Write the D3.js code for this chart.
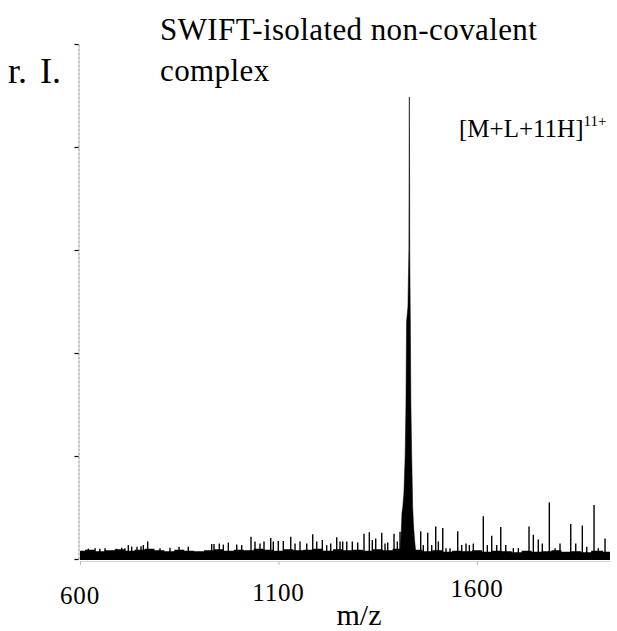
<!DOCTYPE html>
<html>
<head>
<meta charset="utf-8">
<script src="https://cdn.jsdelivr.net/npm/d3@7"></script>
<style>
  html, body { margin: 0; padding: 0; background: #fff; }
  svg { display: block; font-family: "Liberation Serif", "Times New Roman", serif; }
</style>
</head>
<body>
<svg id="chart" width="617" height="631"></svg>
<script>
// tick values
const xTicks = [600, 1100, 1600];
const yTicks = [0, 0.2, 0.4, 0.6, 0.8, 1.0];

// main isolated peak, [M+L+11H]11+ (profile)
const peakMz = [1407, 1409, 1411, 1413, 1416, 1419, 1421, 1422.5, 1426, 1428.4, 1429.3, 1429.8, 1430.6, 1432, 1433.5, 1435.5, 1438, 1440.5, 1443, 1445];
const peakI  = [0.02, 0.05, 0.09, 0.10, 0.13, 0.20, 0.30, 0.46, 0.49, 0.60, 0.897, 0.897, 0.60, 0.47, 0.30, 0.20, 0.10, 0.06, 0.035, 0.02];

// noise spikes m/z + relative intensity
const spikeMz = [621, 638, 650, 663, 692, 705, 713, 721.7, 730.2, 743.6, 753.7, 759.5, 770.5, 801.5, 826.7, 849.4, 872.8,
  931.7, 937.5, 950.9, 961, 973.6, 994.7, 1007.3, 1030.7, 1040.8, 1053.4, 1063.5, 1080.4, 1086.9, 1099.5, 1112.1,
  1130.8, 1141.6, 1154.2, 1171.1, 1186.2, 1196.3, 1210.4, 1221.4, 1231.5, 1246.6, 1254.9, 1261.7, 1272, 1285.9, 1299.5,
  1315.4, 1328.8, 1336.3, 1344.9, 1360, 1368.3, 1375.1, 1391, 1399.3, 1406.1, 1458.2, 1464.8, 1475.9, 1485.9, 1496,
  1502.6, 1513.7, 1522, 1532, 1551.4, 1561.5, 1572.3, 1580.7, 1590.7, 1615.9, 1626, 1637.1, 1649.7, 1659.8, 1672.4,
  1691.5, 1704.1, 1731, 1741.9, 1754.4, 1764.5, 1782.2, 1796.5, 1809.1, 1836.1, 1848.7, 1865.3, 1876.4, 1894.8,
  1905.6, 1922.5];
const spikeI = [0.020, 0.021, 0.020, 0.021, 0.020, 0.022, 0.021, 0.027, 0.024, 0.024, 0.025, 0.027, 0.034, 0.021, 0.022, 0.024, 0.024,
  0.029, 0.029, 0.030, 0.028, 0.032, 0.028, 0.027, 0.043, 0.034, 0.030, 0.034, 0.041, 0.034, 0.035, 0.035,
  0.043, 0.030, 0.034, 0.030, 0.048, 0.034, 0.037, 0.027, 0.030, 0.042, 0.034, 0.034, 0.034, 0.034, 0.032,
  0.049, 0.052, 0.037, 0.040, 0.051, 0.030, 0.032, 0.049, 0.034, 0.053, 0.054, 0.027, 0.051, 0.027, 0.063,
  0.034, 0.060, 0.021, 0.021, 0.054, 0.027, 0.030, 0.027, 0.030, 0.083, 0.027, 0.045, 0.027, 0.062, 0.027,
  0.021, 0.021, 0.063, 0.047, 0.038, 0.030, 0.110, 0.021, 0.030, 0.068, 0.030, 0.065, 0.024, 0.105,
  0.021, 0.040];

// dense noise floor (top edge of the black band)
const floorMz = [600, 625, 650, 675, 700, 725, 750, 775, 800, 825, 850, 875, 900, 925, 950, 975, 1000, 1025,
  1050, 1075, 1100, 1125, 1150, 1175, 1200, 1225, 1250, 1275, 1300, 1325, 1350, 1375, 1400, 1450, 1475, 1500,
  1525, 1550, 1575, 1600, 1625, 1650, 1675, 1700, 1725, 1750, 1775, 1800, 1825, 1850, 1875, 1900, 1935];
const floorI = [0.016, 0.018, 0.015, 0.017, 0.019, 0.016, 0.018, 0.020, 0.017, 0.015, 0.018, 0.016, 0.015, 0.017, 0.019, 0.016, 0.018, 0.017,
  0.020, 0.018, 0.016, 0.019, 0.017, 0.018, 0.020, 0.016, 0.019, 0.017, 0.018, 0.016, 0.019, 0.017, 0.020, 0.018, 0.015, 0.017,
  0.014, 0.016, 0.015, 0.017, 0.014, 0.016, 0.015, 0.013, 0.016, 0.014, 0.015, 0.017, 0.014, 0.015, 0.013, 0.016, 0.014];

const svg = d3.select("#chart");

const x = d3.scaleLinear().domain([600, 1935]).range([80, 610]);
const y = d3.scaleLinear().domain([0, 1]).range([559, 44]);

// x axis (faint, as in the scan)
const gx = svg.append("g")
  .attr("transform", "translate(0,561)")
  .call(d3.axisBottom(x).tickValues(xTicks).tickSize(4).tickSizeOuter(0).tickFormat(""));
gx.select(".domain").attr("stroke", "#d4d4d4");
gx.selectAll(".tick line").attr("stroke", "#bbb");

// y axis
const gy = svg.append("g")
  .attr("transform", "translate(78.5,0)")
  .call(d3.axisLeft(y).tickValues(yTicks).tickSize(4).tickSizeOuter(0).tickFormat(""));
gy.select(".domain").attr("stroke", "#8a8a8a").attr("stroke-dasharray", "3,1");
gy.selectAll(".tick line").attr("stroke", "#000").attr("stroke-width", 1.2);

// noise band
const floorData = floorMz.map((m, i) => ({ mz: m, v: floorI[i] }));
svg.append("path")
  .datum(floorData)
  .attr("fill", "#000")
  .attr("d", d3.area()
    .x(d => x(d.mz))
    .y0(y(-0.002))
    .y1(d => y(d.v))
    .curve(d3.curveStep));

// spikes
const spikes = spikeMz.map((m, i) => ({ mz: m, v: spikeI[i] }));
svg.append("g")
  .selectAll("line")
  .data(spikes)
  .join("line")
  .attr("x1", d => x(d.mz))
  .attr("x2", d => x(d.mz))
  .attr("y1", y(0))
  .attr("y2", d => y(d.v))
  .attr("stroke", "#000")
  .attr("stroke-width", 1.4);

// main peak
const peakData = peakMz.map((m, i) => ({ mz: m, v: peakI[i] }));
svg.append("path")
  .datum(peakData)
  .attr("fill", "#000")
  .attr("stroke", "#000")
  .attr("stroke-width", 0.5)
  .attr("d", d3.area()
    .x(d => x(d.mz))
    .y0(y(0))
    .y1(d => y(d.v)));

// x tick labels (scan is slightly tilted)
svg.append("g")
  .selectAll("text")
  .data(xTicks)
  .join("text")
  .attr("x", d => x(d))
  .attr("y", d => 604 - (x(d) - 80) * 0.0176)
  .attr("text-anchor", "middle")
  .attr("font-size", 25)
  .attr("letter-spacing", 0.8)
  .text(d => d);

svg.append("text")
  .attr("x", 359)
  .attr("y", 625)
  .attr("text-anchor", "middle")
  .attr("font-size", 30)
  .text("m/z");

const ri = svg.append("text")
  .attr("y", 83)
  .attr("font-size", 36);
ri.append("tspan").attr("x", 8).text("r.");
ri.append("tspan").attr("x", 40).text("I.");

// title
svg.append("text")
  .attr("x", 160)
  .attr("y", 39.5)
  .attr("font-size", 31)
  .attr("letter-spacing", 0.4)
  .text("SWIFT-isolated non-covalent");
svg.append("text")
  .attr("x", 160)
  .attr("y", 80.5)
  .attr("font-size", 31)
  .attr("letter-spacing", 0.4)
  .text("complex");

// peak annotation
const ann = svg.append("text")
  .attr("x", 459)
  .attr("y", 137)
  .attr("font-size", 25);
ann.append("tspan").text("[M+L+11H]");
ann.append("tspan").attr("font-size", 15).attr("dy", -11).text("11+");
</script>
</body>
</html>
